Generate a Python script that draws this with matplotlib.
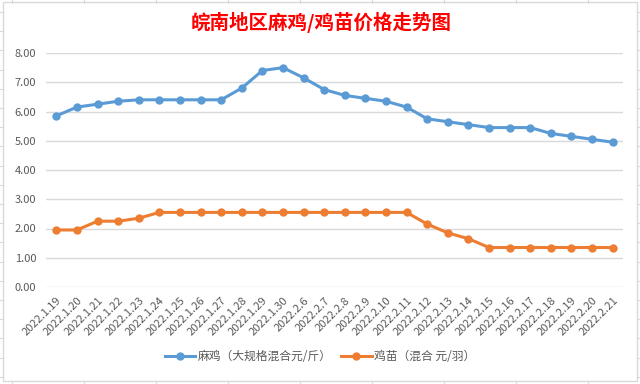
import matplotlib
matplotlib.use("Agg")
import matplotlib.pyplot as plt
import numpy as np
from matplotlib.lines import Line2D
from matplotlib.patches import Rectangle

plt.rcParams['font.family'] = ['Noto Sans CJK SC', 'DejaVu Sans']

dates = ['2022.1.19', '2022.1.20', '2022.1.21', '2022.1.22', '2022.1.23', '2022.1.24',
         '2022.1.25', '2022.1.26', '2022.1.27', '2022.1.28', '2022.1.29', '2022.1.30',
         '2022.2.6', '2022.2.7', '2022.2.8', '2022.2.9', '2022.2.10', '2022.2.11',
         '2022.2.12', '2022.2.13', '2022.2.14', '2022.2.15', '2022.2.16', '2022.2.17',
         '2022.2.18', '2022.2.19', '2022.2.20', '2022.2.21']
maji = [5.85, 6.15, 6.25, 6.35, 6.40, 6.40, 6.40, 6.40, 6.40, 6.80, 7.40, 7.50,
        7.15, 6.75, 6.55, 6.45, 6.35, 6.15, 5.75, 5.65, 5.55, 5.45, 5.45, 5.45,
        5.25, 5.15, 5.05, 4.95]
jimiao = [1.95, 1.95, 2.25, 2.25, 2.35, 2.55, 2.55, 2.55, 2.55, 2.55, 2.55, 2.55,
          2.55, 2.55, 2.55, 2.55, 2.55, 2.55, 2.15, 1.85, 1.65, 1.35, 1.35, 1.35,
          1.35, 1.35, 1.35, 1.35]
labels = ['麻鸡（大规格混合元/斤）', '鸡苗（混合 元/羽）']

blue = '#5B9BD5'
orange = '#ED7D31'
txt = '#595959'
grid = '#D9D9D9'

fig = plt.figure(figsize=(6.4, 3.84), dpi=100)

# spreadsheet cell lines peeking out around the chart
for x in np.arange(12, 640, 72):
    fig.add_artist(Line2D([x / 640, x / 640], [1 - 2.5 / 384, 1], color=grid, lw=0.8))
    fig.add_artist(Line2D([x / 640, x / 640], [0, 3 / 384], color=grid, lw=0.8))
for y in np.arange(12, 384, 19.2):
    fig.add_artist(Line2D([0, 3 / 640], [1 - y / 384, 1 - y / 384], color=grid, lw=0.8))
    fig.add_artist(Line2D([637 / 640, 1], [1 - y / 384, 1 - y / 384], color=grid, lw=0.8))
fig.add_artist(Rectangle((3 / 640, 3 / 384), 634 / 640, 379 / 384, transform=fig.transFigure,
                         fill=False, edgecolor=grid, lw=1))

ax = fig.add_axes([46 / 640, 1 - 287 / 384, 577 / 640, 234 / 384])
x = np.arange(len(dates))
ax.plot(x, maji, color=blue, lw=2.2, marker='o', ms=5, label=labels[0])
ax.plot(x, jimiao, color=orange, lw=2.2, marker='o', ms=5, label=labels[1])

ax.set_xlim(-0.5, len(dates) - 0.5)
ax.set_ylim(0, 8)
ax.set_yticks(np.arange(0, 9, 1))
ax.set_yticklabels([f'{v:.2f}' for v in np.arange(0, 9, 1)], color=txt, fontsize=8)
ax.set_xticks(x)
ax.set_xticklabels(dates, rotation=45, ha='right', va='top', rotation_mode='anchor',
                   color=txt, fontsize=8)
ax.tick_params(axis='both', length=0)
ax.tick_params(axis='x', pad=6)
ax.tick_params(axis='y', pad=7)
ax.grid(axis='y', color=grid, lw=1)
ax.set_axisbelow(True)
for s in ax.spines.values():
    s.set_visible(False)

fig.text(0.502, 1 - 22 / 384, '皖南地区麻鸡/鸡苗价格走势图', color='red', fontsize=14,
         fontweight='bold', ha='center', va='center')

fig.legend(loc='center', bbox_to_anchor=(0.5, 1 - 357 / 384), ncol=2, frameon=False,
           fontsize=8.5, labelcolor=txt, handlelength=2.6, handletextpad=0.2, columnspacing=0.8)

fig.savefig('out.png', dpi=100)
